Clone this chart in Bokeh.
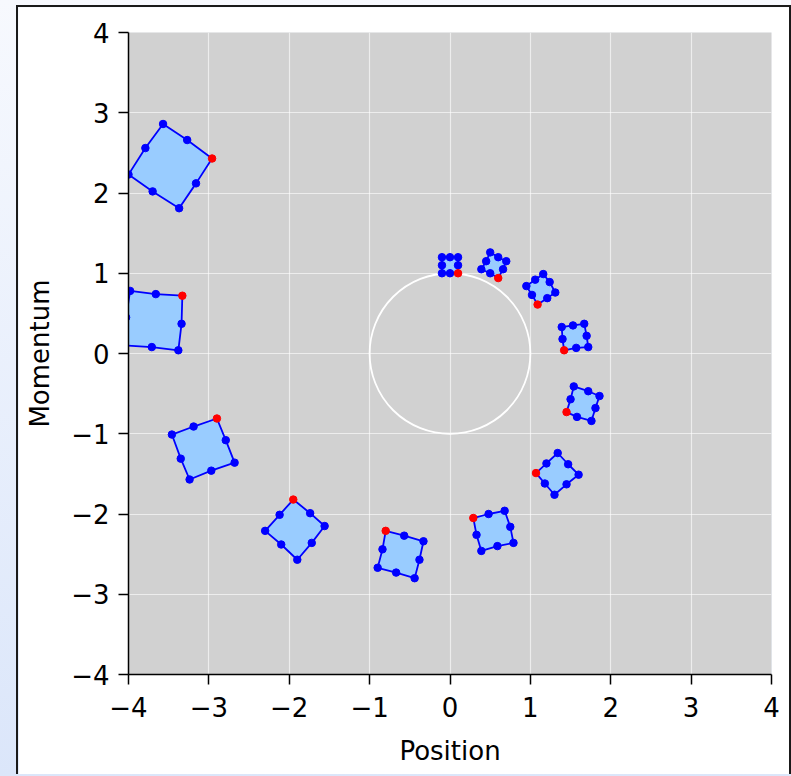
from bokeh.plotting import figure
from bokeh.embed import file_html
from bokeh.resources import INLINE
from bokeh.models import GlobalInlineStyleSheet, FixedTicker

# ---- data ----
x_ticks = [-4, -3, -2, -1, 0, 1, 2, 3, 4]
y_ticks = [-4, -3, -2, -1, 0, 1, 2, 3, 4]
x_label = "Position"
y_label = "Momentum"

circle_x = [0.0]
circle_y = [0.0]
circle_radius = [1.0]

# each square: 8 points around its edge (corner, mid, corner, mid, ...);
# the first point of each square is the marked (red) corner
square_x = [
    [0.10, 0.10, 0.10, 0.00, -0.10, -0.10, -0.10, 0.00],
    [0.60, 0.66, 0.70, 0.60, 0.50, 0.45, 0.39, 0.50],
    [1.09, 1.21, 1.31, 1.24, 1.16, 1.06, 0.95, 1.02],
    [1.42, 1.57, 1.72, 1.70, 1.67, 1.53, 1.39, 1.40],
    [1.45, 1.50, 1.54, 1.72, 1.86, 1.81, 1.76, 1.58],
    [1.07, 1.20, 1.34, 1.47, 1.60, 1.45, 1.30, 1.18],
    [0.29, 0.48, 0.68, 0.75, 0.79, 0.59, 0.39, 0.33],
    [-0.80, -0.57, -0.33, -0.38, -0.44, -0.67, -0.90, -0.84],
    [-1.95, -1.74, -1.56, -1.72, -1.90, -2.10, -2.30, -2.12],
    [-2.90, -2.79, -2.68, -2.97, -3.24, -3.35, -3.46, -3.19],
    [-3.33, -3.34, -3.38, -3.71, -4.06, -4.03, -3.98, -3.66],
    [-2.96, -3.16, -3.37, -3.70, -4.00, -3.79, -3.57, -3.27],
]
square_y = [
    [1.00, 1.10, 1.20, 1.20, 1.20, 1.10, 1.00, 1.00],
    [0.94, 1.05, 1.15, 1.20, 1.26, 1.15, 1.05, 1.00],
    [0.61, 0.69, 0.76, 0.89, 0.99, 0.92, 0.84, 0.73],
    [0.04, 0.07, 0.08, 0.22, 0.37, 0.35, 0.33, 0.18],
    [-0.73, -0.57, -0.41, -0.47, -0.53, -0.68, -0.84, -0.79],
    [-1.49, -1.37, -1.24, -1.38, -1.51, -1.63, -1.76, -1.62],
    [-2.05, -2.00, -1.96, -2.16, -2.36, -2.40, -2.46, -2.26],
    [-2.21, -2.27, -2.34, -2.57, -2.80, -2.73, -2.67, -2.44],
    [-1.82, -1.99, -2.15, -2.36, -2.57, -2.38, -2.21, -2.01],
    [-0.81, -1.08, -1.36, -1.46, -1.57, -1.31, -1.01, -0.91],
    [0.72, 0.37, 0.04, 0.08, 0.10, 0.45, 0.78, 0.74],
    [2.43, 2.12, 1.81, 2.02, 2.23, 2.56, 2.86, 2.66],
]

# ---- derived for drawing ----
red_x = [sx[0] for sx in square_x]
red_y = [sy[0] for sy in square_y]
blue_x = [v for sx in square_x for v in sx[1:]]
blue_y = [v for sy in square_y for v in sy[1:]]

FONT = "DejaVu Sans"

p = figure(
    width=775, height=769,
    x_range=(-4, 4), y_range=(-4, 4),
    output_backend="svg", toolbar_location=None,
    min_border_left=110, min_border_right=22,
    min_border_top=25, min_border_bottom=102,
    background_fill_color="#d1d1d1",
    border_fill_color="white",
    outline_line_color=None,
)

for ax in (p.xaxis[0], p.yaxis[0]):
    ax.axis_line_color = "black"
    ax.axis_line_width = 1.5
    ax.major_tick_line_color = "black"
    ax.major_tick_line_width = 1.5
    ax.major_tick_out = 10
    ax.major_tick_in = 0
    ax.minor_tick_line_color = None
    ax.major_label_text_font = FONT
    ax.major_label_text_font_size = "26px"
    ax.major_label_text_color = "black"
    ax.axis_label_text_font = FONT
    ax.axis_label_text_font_size = "26px"
    ax.axis_label_text_font_style = "normal"
    ax.axis_label_text_color = "black"

p.xaxis.ticker = FixedTicker(ticks=x_ticks)
p.yaxis.ticker = FixedTicker(ticks=y_ticks)
p.xaxis.axis_label = x_label
p.yaxis.axis_label = y_label
p.xaxis.major_label_standoff = 12
p.yaxis.major_label_standoff = 9
p.xaxis.axis_label_standoff = 16
p.yaxis.axis_label_standoff = 13

for g in (p.xgrid[0], p.ygrid[0]):
    g.grid_line_color = "white"
    g.grid_line_alpha = 0.6
    g.grid_line_width = 1.2
    g.ticker = FixedTicker(ticks=x_ticks)

p.ellipse(x=circle_x, y=circle_y, width=[2 * r for r in circle_radius],
          height=[2 * r for r in circle_radius],
          fill_color=None, line_color="white", line_width=1.8)

p.patches(xs=square_x, ys=square_y, fill_color="#99ccff", line_color="blue",
          line_width=1.8)
p.scatter(blue_x, blue_y, size=7.5, fill_color="blue", line_color="blue")
p.scatter(red_x, red_y, size=7.5, fill_color="red", line_color="red")

p.styles = {
    "margin-left": "16px",
    "margin-top": "5px",
    "border": "2px solid #1a1a1a",
    "border-bottom": "none",
}
p.stylesheets = [GlobalInlineStyleSheet(css=(
    "html, body { margin: 0; padding: 0; height: 100%; overflow: hidden;"
    " background: linear-gradient(180deg, #f7f9fe 0%, #dbe6fa 100%); }"
))]

open("out.html", "w").write(file_html(p, INLINE))
